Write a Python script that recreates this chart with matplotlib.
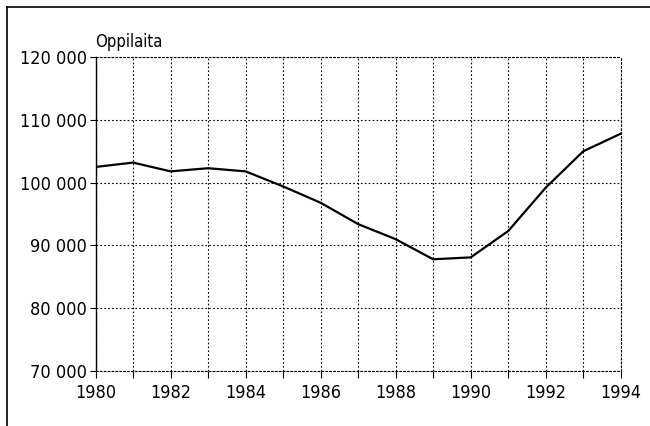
import matplotlib
matplotlib.use('Agg')
import matplotlib.pyplot as plt
from matplotlib.ticker import FuncFormatter
from matplotlib.lines import Line2D

# Oppilaiden määrä vuosittain
vuodet = list(range(1980, 1995))
oppilaat = [102500, 103200, 101800, 102300, 101800, 99400, 96800, 93400,
            91000, 87800, 88100, 92300, 99200, 105000, 107800]
y_tikit = [70000, 80000, 90000, 100000, 110000, 120000]
x_tikit = [1980, 1982, 1984, 1986, 1988, 1990, 1992, 1994]

plt.rcParams['font.family'] = ['DejaVu Sans']
plt.rcParams['font.stretch'] = 'condensed'

fig = plt.figure(figsize=(6.5, 4.26), dpi=100)
ax = fig.add_axes([0.147, 0.129, 0.808, 0.737])

ax.plot(vuodet, oppilaat, color='black', lw=1.6, zorder=3)

ax.set_xlim(1980, 1994)
ax.set_ylim(70000, 120000)
ax.set_xticks(vuodet, minor=True)
ax.set_xticks(x_tikit)
ax.set_yticks(y_tikit)
ax.yaxis.set_major_formatter(FuncFormatter(lambda v, p: f"{int(v):,}".replace(',', ' ')))

pisteviiva = (0, (1.5, 2))
ax.grid(True, which='both', axis='x', color='black', ls=pisteviiva, lw=0.8)
ax.grid(True, which='major', axis='y', color='black', ls=pisteviiva, lw=0.8)

for s in ['top', 'right', 'bottom']:
    ax.spines[s].set_linestyle(pisteviiva)
    ax.spines[s].set_linewidth(0.8)
ax.spines['left'].set_linewidth(1.0)

ax.tick_params(axis='x', which='both', length=5, width=0.8, labelsize=13, pad=4)
ax.tick_params(axis='y', length=4, width=0.8, labelsize=13, pad=2)

ax.text(0.0, 1.02, 'Oppilaita', transform=ax.transAxes, fontsize=12,
        ha='left', va='bottom')

# kehys kuvan ympärillä
fig.add_artist(Line2D([0.011, 0.011], [0.0, 0.983], transform=fig.transFigure,
                      color='black', lw=1.2))
fig.add_artist(Line2D([0.011, 1.0], [0.983, 0.983], transform=fig.transFigure,
                      color='black', lw=1.2))

fig.savefig('out.png', dpi=100)
